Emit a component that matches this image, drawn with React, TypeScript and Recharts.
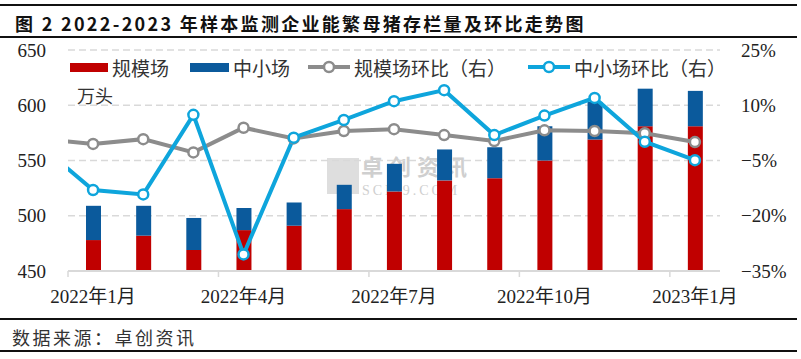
import React from 'react';
import { ComposedChart, Bar, Line, XAxis, YAxis, CartesianGrid } from 'recharts';

// index 0 is Dec 2021: only the MoM lines have it, and it sits off the left edge
const months = [
  '2021年12月', '2022年1月', '2022年2月', '2022年3月', '2022年4月', '2022年5月', '2022年6月',
  '2022年7月', '2022年8月', '2022年9月', '2022年10月', '2022年11月', '2022年12月', '2023年1月',
];
const largeFarms = [null, 478, 482, 469, 487, 491, 506, 522, 532, 534, 550, 569, 581, 581];
const smallFarms = [null, 31, 27, 29, 20, 21, 22, 25, 28, 28, 31, 34, 34, 32];
const largeMoM = [0.8, -0.5, 0.8, -2.8, 3.9, 1.0, 3.0, 3.5, 1.9, 0.3, 3.2, 3.0, 2.4, 0.0];
const smallMoM = [-1.6, -13.0, -14.2, 7.4, -30.5, 1.2, 6.0, 11.1, 14.1, 1.9, 7.2, 12.0, 0.1, -4.9];

const leftTicks = [450, 500, 550, 600, 650];
const rightTicks = [-35, -20, -5, 10, 25];
const labelIdx = [1, 4, 7, 10, 13];
// tick marks sit on the boundary before each labelled month
const xTicks = labelIdx.flatMap((i) => [i - 0.5, i]);

const RED = '#c00000';
const NAVY = '#0b5a9c';
const GRAY = '#8c8c8c';
const CYAN = '#0ea5dc';
const SERIF = "'Liberation Serif', 'Noto Sans CJK SC', serif";
const SANS = "'Noto Sans CJK SC', sans-serif";

const data = months.map((m, i) => ({
  idx: i,
  month: m,
  large: largeFarms[i],
  small: smallFarms[i],
  largeMoM: largeMoM[i],
  smallMoM: smallMoM[i],
}));

const XTick = (props: any) => {
  const { x, y, payload } = props;
  const v = payload.value;
  if (!Number.isInteger(v)) {
    return <line x1={x} x2={x} y1={y} y2={y + 6} stroke="#d9d9d9" strokeWidth={1.5} />;
  }
  return (
    <text x={x} y={y + 32} textAnchor="middle" fontSize={19} fontFamily={SERIF} fill="#222">
      {months[v]}
    </text>
  );
};

const LineIcon = ({ color }: { color: string }) => (
  <svg width={42} height={14} style={{ display: 'block' }}>
    <line x1={0} x2={42} y1={7} y2={7} stroke={color} strokeWidth={4} />
    <circle cx={21} cy={7} r={5} fill="#fff" stroke={color} strokeWidth={2.5} />
  </svg>
);

const legendItems = [
  { name: '规模场', left: 70, icon: <div style={{ width: 38, height: 9, background: RED }} /> },
  { name: '中小场', left: 190, icon: <div style={{ width: 39, height: 9, background: NAVY }} /> },
  { name: '规模场环比（右）', left: 308, icon: <LineIcon color={GRAY} /> },
  { name: '中小场环比（右）', left: 528, icon: <LineIcon color={CYAN} /> },
];

const hr = (top: number) => (
  <div style={{ position: 'absolute', left: 0, top, width: 797, height: 1.5, background: '#111' }} />
);

export default function App() {
  return (
    <div style={{ position: 'absolute', left: 0, top: 0, width: 801, height: 359, background: '#fff', overflow: 'hidden' }}>
      {hr(4)}
      <div style={{ position: 'absolute', left: 15, top: 10, fontFamily: SANS, fontWeight: 700, fontSize: 18, letterSpacing: 2.3, color: '#111', whiteSpace: 'nowrap' }}>
        图 2 2022-2023 年样本监测企业能繁母猪存栏量及环比走势图
      </div>
      {hr(36)}

      {/* watermark */}
      <div style={{ position: 'absolute', left: 327, top: 158, width: 32, height: 36, background: '#dedede' }} />
      <div style={{ position: 'absolute', left: 361, top: 154, fontFamily: SANS, fontSize: 22, lineHeight: '22px', letterSpacing: 6, fontWeight: 700, color: '#cfcfcf', whiteSpace: 'nowrap' }}>
        卓创资讯
      </div>
      <div style={{ position: 'absolute', left: 362, top: 184, fontFamily: SERIF, fontSize: 14, lineHeight: '13px', letterSpacing: 3, color: '#cfcfcf', whiteSpace: 'nowrap' }}>
        SCI99.COM
      </div>

      <div style={{ position: 'absolute', left: 0, top: 0 }}>
        <ComposedChart width={801} height={320} data={data} margin={{ top: 50, right: 21, bottom: 19, left: 18 }}>
          <CartesianGrid yAxisId="left" vertical={false} stroke="#d9d9d9" strokeWidth={1.5} strokeDasharray="7 4" />
          <XAxis
            dataKey="idx"
            type="number"
            domain={[0.5, 13.5]}
            allowDataOverflow
            ticks={xTicks}
            interval={0}
            tick={<XTick />}
            tickLine={false}
            tickSize={0}
            tickMargin={0}
            height={30}
            axisLine={{ stroke: '#d9d9d9', strokeWidth: 2 }}
          />
          <YAxis
            yAxisId="left"
            domain={[450, 650]}
            ticks={leftTicks}
            allowDataOverflow
            width={50}
            axisLine={false}
            tickLine={false}
            tickMargin={16}
            tick={{ fontSize: 19, fontFamily: SERIF, fill: '#222' }}
          />
          <YAxis
            yAxisId="right"
            orientation="right"
            domain={[-35, 25]}
            ticks={rightTicks}
            allowDataOverflow
            width={60}
            axisLine={false}
            tickLine={false}
            tickMargin={15}
            tickFormatter={(v: number) => `${v}%`.replace('-', '−')}
            tick={{ fontSize: 19, fontFamily: SERIF, fill: '#222', textAnchor: 'start' }}
          />
          <Bar yAxisId="left" dataKey="large" stackId="a" fill={RED} barSize={15} isAnimationActive={false} />
          <Bar yAxisId="left" dataKey="small" stackId="a" fill={NAVY} barSize={15} isAnimationActive={false} />
          <Line
            yAxisId="right"
            dataKey="largeMoM"
            stroke={GRAY}
            strokeWidth={4}
            dot={{ r: 5, fill: '#fff', stroke: GRAY, strokeWidth: 2.5 }}
            activeDot={false}
            isAnimationActive={false}
          />
          <Line
            yAxisId="right"
            dataKey="smallMoM"
            stroke={CYAN}
            strokeWidth={4}
            dot={{ r: 5, fill: '#fff', stroke: CYAN, strokeWidth: 2.5 }}
            activeDot={false}
            isAnimationActive={false}
          />
        </ComposedChart>
      </div>

      {legendItems.map((it) => (
        <div key={it.name} style={{ position: 'absolute', left: it.left, top: 55, height: 24, display: 'flex', alignItems: 'center', gap: 4, fontFamily: SANS, fontSize: 19, color: '#333', whiteSpace: 'nowrap' }}>
          {it.icon}
          <span>{it.name}</span>
        </div>
      ))}
      <div style={{ position: 'absolute', left: 77, top: 82, fontFamily: SANS, fontSize: 18, color: '#333' }}>万头</div>

      {hr(318)}
      <div style={{ position: 'absolute', left: 12, top: 324, fontFamily: SANS, fontSize: 18, letterSpacing: 2.5, color: '#333', whiteSpace: 'nowrap' }}>
        数据来源：卓创资讯
      </div>
      {hr(350)}
    </div>
  );
}
